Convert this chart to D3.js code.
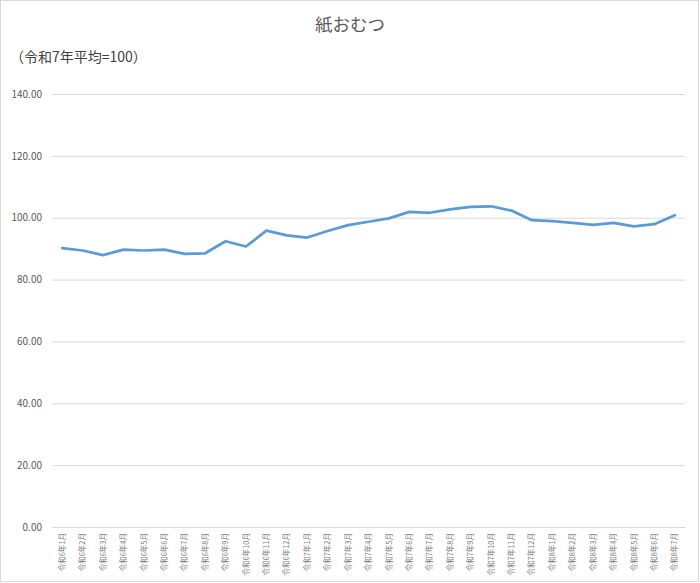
<!DOCTYPE html>
<html>
<head>
<meta charset="utf-8">
<script src="https://cdn.jsdelivr.net/npm/d3@7"></script>
<style>
  body { margin: 0; background: #fff; }
  text { font-family: "Noto Sans CJK JP", "Noto Sans", sans-serif; }
</style>
</head>
<body>
<div id="chart"></div>
<script>
const months = [
  "令和6年1月", "令和6年2月", "令和6年3月", "令和6年4月", "令和6年5月", "令和6年6月",
  "令和6年7月", "令和6年8月", "令和6年9月", "令和6年10月", "令和6年11月", "令和6年12月",
  "令和7年1月", "令和7年2月", "令和7年3月", "令和7年4月", "令和7年5月", "令和7年6月",
  "令和7年7月", "令和7年8月", "令和7年9月", "令和7年10月", "令和7年11月", "令和7年12月",
  "令和8年1月", "令和8年2月", "令和8年3月", "令和8年4月", "令和8年5月", "令和8年6月",
  "令和8年7月"
];

const values = [
  90.2, 89.4, 87.9, 89.7, 89.4, 89.7, 88.3, 88.5, 92.4, 90.7, 95.8, 94.3,
  93.6, 95.7, 97.6, 98.7, 99.8, 101.9, 101.6, 102.7, 103.5, 103.7, 102.3, 99.2,
  98.9, 98.3, 97.7, 98.3, 97.2, 97.9, 100.8
];

const yTicks = [0, 20, 40, 60, 80, 100, 120, 140];

const W = 700, H = 583;
const margin = { top: 94, right: 15, bottom: 56, left: 52 };
const width = W - margin.left - margin.right,
      height = H - margin.top - margin.bottom;

const root = d3.select("#chart").append("svg")
  .attr("width", W)
  .attr("height", H);

// chart border
root.append("rect")
  .attr("x", 0.5).attr("y", 0.5)
  .attr("width", W - 2).attr("height", H - 2)
  .attr("fill", "#fff")
  .attr("stroke", "#d9d9d9");

root.append("text")
  .attr("x", W / 2)
  .attr("y", 31)
  .attr("text-anchor", "middle")
  .attr("fill", "#595959")
  .style("font-size", "17.5px")
  .text("紙おむつ");

root.append("text")
  .attr("x", 10)
  .attr("y", 62)
  .attr("fill", "#404040")
  .style("font-size", "14px")
  .text("（令和7年平均=100）");

const svg = root.append("g")
  .attr("transform", `translate(${margin.left}, ${margin.top})`);

const x = d3.scaleBand()
  .domain(months)
  .range([0, width]);

const y = d3.scaleLinear()
  .domain([0, 140])
  .range([height, 0]);

/* gridlines + y labels */
svg.append("g")
  .call(d3.axisLeft(y).tickValues(yTicks).tickSize(-width).tickFormat(d3.format(".2f")))
  .call(g => g.select(".domain").remove())
  .call(g => g.selectAll(".tick line").attr("stroke", "#d9d9d9"))
  .call(g => g.selectAll(".tick text")
    .attr("x", -10)
    .attr("fill", "#595959")
    .style("font-size", "10px"));

/* x labels */
svg.append("g")
  .attr("transform", `translate(0, ${height})`)
  .call(d3.axisBottom(x).tickSize(0))
  .call(g => g.select(".domain").attr("stroke", "#d9d9d9"))
  .call(g => g.selectAll(".tick text")
    .attr("transform", "rotate(-90)")
    .attr("text-anchor", "end")
    .attr("x", -6)
    .attr("y", 0)
    .attr("dy", "0.35em")
    .attr("fill", "#7f7f7f")
    .style("font-size", "7.5px"));

/* line */
const line = d3.line()
  .x((d, i) => x(months[i]) + x.bandwidth() / 2)
  .y(d => y(d));

svg.append("path")
  .datum(values)
  .attr("fill", "none")
  .attr("stroke", "#5b9bd5")
  .attr("stroke-width", 2.75)
  .attr("stroke-linejoin", "round")
  .attr("stroke-linecap", "round")
  .attr("d", line);
</script>
</body>
</html>
